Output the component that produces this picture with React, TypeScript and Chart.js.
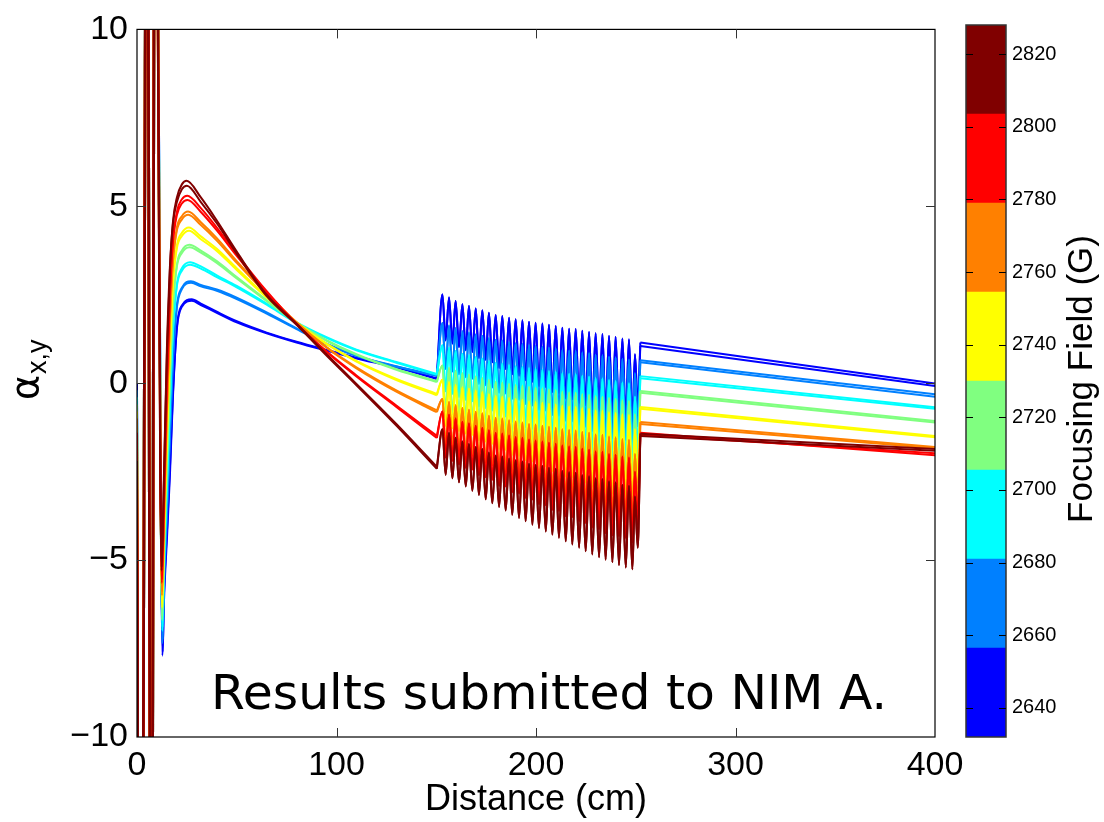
import React, { useEffect, useRef } from 'react';
import { Chart, registerables } from 'chart.js';

Chart.register(...registerables);

const FONT = '"Liberation Sans", Arial, Helvetica, sans-serif';
const NOTE_FONT = '"DejaVu Sans", sans-serif';
const NOTE = 'Results submitted to NIM A.';

// ---- axes ----
const X_TICKS = [0, 100, 200, 300, 400];
const Y_TICKS = [-10, -5, 0, 5, 10];
const X_TITLE = 'Distance (cm)';
const CB_TITLE = 'Focusing Field (G)';

// ---- colour bar ----
const CB_TICKS = [2640, 2660, 2680, 2700, 2720, 2740, 2760, 2780, 2800, 2820];
const CB_BOUNDS = [2632, 2656.5, 2681, 2705.5, 2730, 2754.5, 2779, 2803.5, 2828];
const BAND_COLORS = ['#0000ff', '#0080ff', '#00ffff', '#80ff80', '#ffff00', '#ff8000', '#ff0000', '#800000'];

// ---- curves (16 curves, 2 per colour band; blue first, dark red last) ----
const START_Y = [0.0, -0.1, -0.2, -0.3, -0.4, -0.5, -0.6, -0.7, -0.8, -0.9, -1.0, -1.1, -1.4, -1.6, -2.2, -2.7];

const SPIKE_X_A = [0.6, 2.6, 4.4, 5.2, 6.6, 7.4, 8.6, 9.6];
const SPIKE_X_B = [0.9, 2.9, 4.75, 5.55, 6.95, 7.75, 8.95, 9.95];
const SPIKE_Y = [-14, -14, 14, 14, -14, -14, 14, 14];

const DIP_X = [12.8, 12.85, 12.75, 12.8, 12.7, 12.75, 12.6, 12.65, 12.55, 12.6, 12.5, 12.55, 12.4, 12.45, 12.3, 12.35];
const DIP_Y = [-7.7, -7.6, -7.35, -7.25, -7.0, -6.9, -6.7, -6.6, -6.35, -6.25, -6.0, -5.9, -5.65, -5.55, -5.3, -5.2];

const RISE_X = [13.5, 15, 16.5, 18, 20, 22.5];
const RISE_Y = [
  [-6.2, -4.4, -2.6, -0.4, 1.6, 2.2],
  [-6.0, -4.2, -2.4, -0.3, 1.55, 2.16],
  [-5.8, -3.7, -1.6, 0.6, 2.2, 2.7],
  [-5.6, -3.5, -1.4, 0.7, 2.15, 2.66],
  [-5.3, -3.0, -0.7, 1.4, 2.8, 3.25],
  [-5.1, -2.8, -0.5, 1.5, 2.75, 3.18],
  [-4.9, -2.3, 0.1, 2.1, 3.35, 3.75],
  [-4.7, -2.1, 0.3, 2.2, 3.3, 3.68],
  [-4.5, -1.6, 0.9, 2.8, 3.9, 4.25],
  [-4.3, -1.4, 1.1, 2.85, 3.82, 4.16],
  [-4.0, -0.9, 1.7, 3.4, 4.4, 4.72],
  [-3.8, -0.7, 1.9, 3.45, 4.32, 4.63],
  [-3.5, -0.1, 2.4, 4.0, 4.85, 5.2],
  [-3.3, 0.1, 2.6, 4.0, 4.75, 5.08],
  [-2.8, 0.8, 3.2, 4.55, 5.25, 5.62],
  [-2.6, 1.0, 3.3, 4.5, 5.12, 5.48],
];

const PEAK_X = [27.4, 27.5, 27.0, 27.1, 26.6, 26.7, 26.3, 26.4, 26.0, 26.1, 25.6, 25.7, 25.2, 25.3, 24.9, 25.0];
const PEAK_Y = [2.37, 2.33, 2.88, 2.84, 3.42, 3.35, 3.91, 3.84, 4.40, 4.31, 4.85, 4.76, 5.30, 5.18, 5.72, 5.58];

const DECLINE_X = [32, 40, 50, 65, 80, 95, 110, 130, 150.3];
const DECLINE_Y = [
  [2.25, 2.02, 1.75, 1.43, 1.17, 0.94, 0.72, 0.46, 0.14],
  [2.21, 1.99, 1.72, 1.41, 1.15, 0.92, 0.70, 0.44, 0.12],
  [2.78, 2.65, 2.42, 2.00, 1.55, 1.12, 0.78, 0.48, 0.22],
  [2.74, 2.61, 2.38, 1.97, 1.53, 1.10, 0.77, 0.47, 0.20],
  [3.30, 3.05, 2.75, 2.25, 1.72, 1.30, 0.95, 0.60, 0.26],
  [3.24, 3.00, 2.71, 2.22, 1.70, 1.28, 0.93, 0.58, 0.24],
  [3.75, 3.45, 3.00, 2.35, 1.72, 1.22, 0.82, 0.40, 0.06],
  [3.69, 3.40, 2.96, 2.32, 1.70, 1.20, 0.80, 0.38, 0.03],
  [4.15, 3.80, 3.25, 2.45, 1.72, 1.12, 0.63, 0.12, -0.30],
  [4.07, 3.74, 3.20, 2.42, 1.70, 1.10, 0.61, 0.09, -0.34],
  [4.55, 4.10, 3.45, 2.55, 1.72, 1.02, 0.45, -0.20, -0.77],
  [4.47, 4.03, 3.40, 2.52, 1.70, 1.00, 0.42, -0.24, -0.82],
  [4.95, 4.40, 3.65, 2.60, 1.68, 0.90, 0.22, -0.63, -1.49],
  [4.84, 4.32, 3.60, 2.57, 1.66, 0.88, 0.19, -0.67, -1.55],
  [5.25, 4.60, 3.72, 2.50, 1.68, 0.82, -0.02, -1.15, -2.36],
  [5.12, 4.52, 3.66, 2.46, 1.65, 0.78, -0.06, -1.20, -2.42],
];

// oscillating section (shared by the two curves of a band)
const OSC_PEAK_X = [153.1, 156.4, 159.7, 163.1, 166.4, 169.8, 173.1, 176.4, 179.8, 183.1, 186.5, 189.8, 193.2, 196.5, 199.8, 203.2, 206.5, 209.9, 213.2, 216.6, 219.9, 223.2, 226.6, 229.9, 233.3, 236.6, 239.9, 243.3, 246.6, 249.6];
const OSC_TROUGH_X = [154.7, 158.1, 161.4, 164.8, 168.1, 171.4, 174.8, 178.1, 181.5, 184.8, 188.1, 191.5, 194.8, 198.2, 201.5, 204.9, 208.2, 211.5, 214.9, 218.2, 221.6, 224.9, 228.2, 231.6, 234.9, 238.3, 241.6, 245.0, 248.3, 251.0];

const OSC_PEAKS = [
  [2.51, 2.42, 2.32, 2.23, 2.18, 2.11, 2.06, 1.99, 1.93, 1.90, 1.85, 1.81, 1.78, 1.74, 1.71, 1.69, 1.65, 1.62, 1.57, 1.54, 1.53, 1.48, 1.45, 1.41, 1.39, 1.34, 1.31, 1.26, 1.24, 0.82],
  [1.70, 1.63, 1.55, 1.47, 1.43, 1.38, 1.34, 1.28, 1.23, 1.21, 1.16, 1.13, 1.11, 1.07, 1.05, 1.03, 1.00, 0.98, 0.94, 0.92, 0.91, 0.87, 0.85, 0.80, 0.79, 0.75, 0.73, 0.69, 0.67, 0.28],
  [1.07, 1.00, 0.91, 0.83, 0.79, 0.74, 0.70, 0.63, 0.58, 0.56, 0.51, 0.48, 0.46, 0.42, 0.40, 0.37, 0.34, 0.32, 0.28, 0.26, 0.25, 0.20, 0.18, 0.14, 0.13, 0.09, 0.06, 0.02, 0.00, -0.38],
  [0.50, 0.43, 0.35, 0.28, 0.24, 0.19, 0.15, 0.09, 0.04, 0.02, -0.02, -0.05, -0.07, -0.11, -0.13, -0.15, -0.18, -0.20, -0.24, -0.26, -0.27, -0.31, -0.33, -0.37, -0.38, -0.42, -0.44, -0.48, -0.50, -0.88],
  [0.10, 0.03, -0.05, -0.12, -0.16, -0.21, -0.25, -0.31, -0.36, -0.38, -0.42, -0.45, -0.47, -0.51, -0.53, -0.55, -0.58, -0.60, -0.64, -0.66, -0.67, -0.71, -0.73, -0.77, -0.78, -0.82, -0.84, -0.88, -0.90, -1.30],
  [-0.45, -0.53, -0.62, -0.70, -0.75, -0.81, -0.85, -0.92, -0.98, -1.00, -1.05, -1.08, -1.11, -1.15, -1.17, -1.20, -1.23, -1.26, -1.30, -1.32, -1.34, -1.38, -1.40, -1.45, -1.46, -1.51, -1.53, -1.58, -1.60, -2.00],
  [-0.80, -0.89, -1.00, -1.09, -1.14, -1.20, -1.26, -1.33, -1.40, -1.42, -1.48, -1.52, -1.54, -1.59, -1.62, -1.65, -1.68, -1.71, -1.76, -1.79, -1.80, -1.85, -1.88, -1.93, -1.94, -2.00, -2.02, -2.07, -2.10, -2.50],
  [-1.30, -1.41, -1.54, -1.65, -1.72, -1.80, -1.86, -1.96, -2.04, -2.07, -2.13, -2.18, -2.21, -2.28, -2.31, -2.34, -2.39, -2.42, -2.48, -2.52, -2.53, -2.60, -2.63, -2.69, -2.71, -2.77, -2.80, -2.87, -2.90, -3.20],
];
const OSC_TROUGHS = [
  [1.21, 1.12, 1.02, 0.93, 0.88, 0.71, 0.66, 0.59, 0.43, 0.40, 0.25, 0.21, 0.08, 0.04, -0.09, -0.11, -0.25, -0.28, -0.43, -0.46, -0.57, -0.62, -0.75, -0.79, -0.91, -0.96, -0.99, -1.04, -1.16, -0.68],
  [0.40, 0.33, 0.25, 0.17, 0.13, -0.02, -0.06, -0.12, -0.27, -0.29, -0.44, -0.47, -0.59, -0.63, -0.75, -0.77, -0.90, -0.92, -1.06, -1.08, -1.19, -1.23, -1.35, -1.40, -1.51, -1.55, -1.57, -1.61, -1.73, -1.22],
  [-0.23, -0.30, -0.39, -0.47, -0.51, -0.66, -0.70, -0.77, -0.92, -0.94, -1.09, -1.12, -1.24, -1.28, -1.40, -1.43, -1.56, -1.58, -1.72, -1.74, -1.85, -1.90, -2.02, -2.06, -2.17, -2.21, -2.24, -2.28, -2.40, -1.88],
  [-0.80, -0.87, -0.95, -1.02, -1.06, -1.21, -1.25, -1.31, -1.46, -1.48, -1.62, -1.65, -1.77, -1.81, -1.93, -1.95, -2.08, -2.10, -2.24, -2.26, -2.37, -2.41, -2.53, -2.57, -2.68, -2.72, -2.74, -2.78, -2.90, -2.38],
  [-1.20, -1.27, -1.35, -1.42, -1.46, -1.61, -1.65, -1.71, -1.86, -1.88, -2.02, -2.05, -2.17, -2.21, -2.33, -2.35, -2.48, -2.50, -2.64, -2.66, -2.77, -2.81, -2.93, -2.97, -3.08, -3.12, -3.14, -3.18, -3.30, -2.80],
  [-1.75, -1.83, -1.92, -2.00, -2.05, -2.21, -2.25, -2.32, -2.48, -2.50, -2.65, -2.68, -2.81, -2.85, -2.97, -3.00, -3.13, -3.16, -3.30, -3.32, -3.44, -3.48, -3.60, -3.65, -3.76, -3.81, -3.83, -3.88, -4.00, -3.50],
  [-2.10, -2.19, -2.30, -2.39, -2.44, -2.60, -2.66, -2.73, -2.90, -2.92, -3.08, -3.12, -3.24, -3.29, -3.42, -3.45, -3.58, -3.61, -3.76, -3.79, -3.90, -3.95, -4.08, -4.13, -4.24, -4.30, -4.32, -4.37, -4.50, -4.00],
  [-2.59, -2.69, -2.80, -2.92, -3.04, -3.16, -3.28, -3.39, -3.50, -3.60, -3.72, -3.81, -3.90, -4.00, -4.09, -4.19, -4.28, -4.37, -4.47, -4.56, -4.65, -4.75, -4.84, -4.92, -4.99, -5.06, -5.14, -5.21, -5.26, -4.65],
];

const POST_X = [252.3, 400];
const POST_Y = [
  [1.15, -0.01], [1.05, -0.08],
  [0.65, -0.31], [0.59, -0.38],
  [0.20, -0.68], [0.14, -0.72],
  [-0.22, -1.07], [-0.27, -1.11],
  [-0.67, -1.49], [-0.72, -1.53],
  [-1.10, -1.80], [-1.15, -1.84],
  [-1.40, -2.04], [-1.46, -1.98],
  [-1.43, -1.86], [-1.49, -1.91],
];

function pts(xs: number[], ys: number[]) {
  return xs.map((x, k) => ({ x, y: ys[k] }));
}

function buildDatasets() {
  const out: any[] = [];
  const n = START_Y.length;
  for (let i = 0; i < n; i++) {
    const b = Math.floor(i / 2);
    const color = BAND_COLORS[b];
    const spikeX = i % 2 === 0 ? SPIKE_X_A : SPIKE_X_B;
    const dec = DECLINE_Y[i];
    const partA = [
      { x: 0, y: START_Y[i] },
      ...pts(spikeX, SPIKE_Y),
      { x: DIP_X[i], y: DIP_Y[i] },
      ...pts(RISE_X, RISE_Y[i]),
      { x: PEAK_X[i], y: PEAK_Y[i] },
      ...pts(DECLINE_X, dec),
    ];
    const osc: any[] = [];
    for (let k = 0; k < OSC_PEAK_X.length; k++) {
      osc.push({ x: OSC_PEAK_X[k], y: OSC_PEAKS[b][k] });
      osc.push({ x: OSC_TROUGH_X[k], y: OSC_TROUGHS[b][k] });
    }
    const partB = [
      { x: DECLINE_X[DECLINE_X.length - 1], y: dec[dec.length - 1] },
      ...osc,
      { x: POST_X[0], y: POST_Y[i][0] },
    ];
    const partC = pts(POST_X, POST_Y[i]);
    const common = {
      borderColor: color,
      backgroundColor: color,
      borderWidth: 2,
      pointRadius: 0,
      fill: false,
      borderJoinStyle: 'round',
      clip: 0,
      order: n - 1 - i,
    };
    out.push({ ...common, data: partA, cubicInterpolationMode: 'monotone' });
    out.push({ ...common, data: partB, cubicInterpolationMode: 'monotone' });
    out.push({ ...common, data: partC, tension: 0 });
  }
  return out;
}

const fmt = (v: number) => (v < 0 ? '\u2212' + Math.abs(v) : String(v));

const framePlugin = {
  id: 'frame',
  afterDraw(chart: any) {
    const { ctx, chartArea: a, scales } = chart;
    ctx.save();
    ctx.strokeStyle = '#000';
    ctx.lineWidth = 1.2;
    ctx.strokeRect(a.left, a.top, a.right - a.left, a.bottom - a.top);
    ctx.lineWidth = 1;
    ctx.strokeStyle = '#333';
    const tl = 9;
    ctx.beginPath();
    X_TICKS.slice(1, -1).forEach((v) => {
      const px = Math.round(scales.x.getPixelForValue(v)) + 0.5;
      ctx.moveTo(px, a.bottom); ctx.lineTo(px, a.bottom - tl);
      ctx.moveTo(px, a.top); ctx.lineTo(px, a.top + tl);
    });
    Y_TICKS.slice(1, -1).forEach((v) => {
      const py = Math.round(scales.y.getPixelForValue(v)) + 0.5;
      ctx.moveTo(a.left, py); ctx.lineTo(a.left + tl, py);
      ctx.moveTo(a.right, py); ctx.lineTo(a.right - tl, py);
    });
    ctx.stroke();

    // y-axis label: alpha with subscript x,y
    ctx.fillStyle = '#000';
    ctx.save();
    ctx.translate(38, 400);
    ctx.rotate(-Math.PI / 2);
    ctx.textAlign = 'left';
    ctx.textBaseline = 'alphabetic';
    ctx.font = '38px "DejaVu Sans", sans-serif';
    ctx.fillText('\u03b1', 0, 0);
    const w = ctx.measureText('\u03b1').width;
    ctx.font = '27px ' + FONT;
    ctx.fillText('x,y', w + 1, 8);
    ctx.restore();

    // annotation text
    ctx.font = '48px ' + NOTE_FONT;
    const tw = ctx.measureText(NOTE).width;
    const size = (48 * 676) / tw;
    ctx.font = size.toFixed(1) + 'px ' + NOTE_FONT;
    ctx.textAlign = 'left';
    ctx.textBaseline = 'alphabetic';
    ctx.fillText(NOTE, 211, 709);
    ctx.restore();
  },
};

const cbPlugin = {
  id: 'cbframe',
  afterDraw(chart: any) {
    const { ctx, chartArea: a, scales } = chart;
    ctx.save();
    ctx.strokeStyle = '#333';
    ctx.lineWidth = 1.5;
    ctx.strokeRect(a.left, a.top, a.right - a.left, a.bottom - a.top);
    ctx.strokeStyle = '#000';
    ctx.lineWidth = 1;
    ctx.beginPath();
    CB_TICKS.forEach((v) => {
      const py = Math.round(scales.y.getPixelForValue(v)) + 0.5;
      ctx.moveTo(a.left, py); ctx.lineTo(a.left + 7, py);
      ctx.moveTo(a.right, py); ctx.lineTo(a.right - 7, py);
    });
    ctx.stroke();
    ctx.translate(a.right + 86, (a.top + a.bottom) / 2 - 2);
    ctx.rotate(-Math.PI / 2);
    ctx.fillStyle = '#000';
    ctx.textAlign = 'center';
    ctx.textBaseline = 'alphabetic';
    ctx.font = '35px ' + FONT;
    ctx.fillText(CB_TITLE, 0, 0);
    ctx.restore();
  },
};

export default function App() {
  const mainRef = useRef<HTMLCanvasElement | null>(null);
  const cbRef = useRef<HTMLCanvasElement | null>(null);

  useEffect(() => {
    if (!mainRef.current || !cbRef.current) return;
    const main = new Chart(mainRef.current, {
      type: 'line',
      data: { datasets: buildDatasets() },
      options: {
        responsive: false,
        animation: false,
        devicePixelRatio: 1,
        events: [],
        layout: { padding: { left: 0, top: 25, right: 169, bottom: 0 } },
        elements: { line: { capBezierPoints: false } },
        plugins: { legend: { display: false }, tooltip: { enabled: false } },
        scales: {
          x: {
            type: 'linear',
            min: 0,
            max: 400,
            grid: { display: false, drawTicks: false },
            border: { display: false },
            afterBuildTicks: (s: any) => { s.ticks = X_TICKS.map((v) => ({ value: v })); },
            afterFit: (s: any) => { s.height = 85; },
            ticks: { font: { family: FONT, size: 34 }, color: '#000', padding: 8, maxRotation: 0, autoSkip: false, callback: (v: any) => fmt(Number(v)) },
            title: { display: true, text: X_TITLE, font: { family: FONT, size: 36 }, color: '#000', padding: { top: 0, bottom: 0 } },
          },
          y: {
            type: 'linear',
            min: -10,
            max: 10,
            grid: { display: false, drawTicks: false },
            border: { display: false },
            afterBuildTicks: (s: any) => { s.ticks = Y_TICKS.map((v) => ({ value: v })); },
            afterFit: (s: any) => { s.width = 137; },
            ticks: { font: { family: FONT, size: 34 }, color: '#000', padding: 9, autoSkip: false, callback: (v: any) => fmt(Number(v)) },
          },
        },
      },
      plugins: [framePlugin],
    } as any);

    const cb = new Chart(cbRef.current, {
      type: 'bar',
      data: {
        labels: ['field'],
        datasets: BAND_COLORS.map((c, k) => ({
          data: [[CB_BOUNDS[k], CB_BOUNDS[k + 1]]],
          backgroundColor: c,
          borderWidth: 0,
          grouped: false,
          barPercentage: 1,
          categoryPercentage: 1,
        })),
      },
      options: {
        responsive: false,
        animation: false,
        devicePixelRatio: 1,
        events: [],
        layout: { padding: { left: 26, top: 25, right: 0, bottom: 85 } },
        plugins: { legend: { display: false }, tooltip: { enabled: false } },
        scales: {
          x: { display: false },
          y: {
            position: 'right',
            min: CB_BOUNDS[0],
            max: CB_BOUNDS[CB_BOUNDS.length - 1],
            grid: { display: false, drawTicks: false },
            border: { display: false },
            afterBuildTicks: (s: any) => { s.ticks = CB_TICKS.map((v) => ({ value: v })); },
            afterFit: (s: any) => { s.width = 98; },
            ticks: { font: { family: FONT, size: 20 }, color: '#000', padding: 6, autoSkip: false, callback: (v: any) => String(v) },
          },
        },
      },
      plugins: [cbPlugin],
    } as any);

    return () => {
      main.destroy();
      cb.destroy();
    };
  }, []);

  return (
    <div style={{ position: 'fixed', left: 0, top: 0, width: 1104, height: 822, background: '#fff' }}>
      <canvas ref={mainRef} width={1104} height={822} style={{ position: 'absolute', left: 0, top: 0 }} />
      <canvas ref={cbRef} width={164} height={822} style={{ position: 'absolute', left: 940, top: 0 }} />
    </div>
  );
}
